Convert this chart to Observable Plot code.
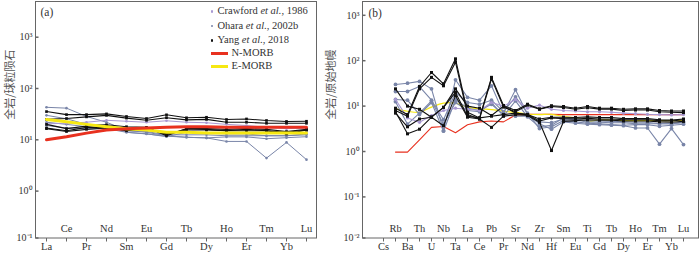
<!DOCTYPE html>
<html><head><meta charset="utf-8">
<script src="https://cdn.jsdelivr.net/npm/d3@7"></script>
<script src="https://cdn.jsdelivr.net/npm/@observablehq/plot@0.6"></script>
<style>
body{margin:0;background:#fff;}
#wrap{position:relative;width:700px;height:256px;overflow:hidden;font-family:"Liberation Serif","Times New Roman",serif;}
#wrap svg{font-family:"Liberation Serif","Times New Roman",serif !important;}
#pa{position:absolute;left:0;top:0;}
#pb{position:absolute;left:318px;top:0;}
.lg{position:absolute;font-size:10.5px;color:#333;white-space:nowrap;line-height:12px;}
.mk{position:absolute;}
</style></head><body>
<div id="wrap"><div id="pa"></div><div id="pb"></div><div id="legend"></div></div>
<script>
// ---------- data ----------
const reeA = ["La","Ce","Pr","Nd","Sm","Eu","Gd","Tb","Dy","Ho","Er","Tm","Yb","Lu"];
const elB = ["Cs","Rb","Ba","Th","U","Nb","Ta","La","Ce","Pb","Pr","Sr","Nd","Zr","Hf","Sm","Eu","Ti","Gd","Tb","Dy","Ho","Er","Tm","Yb","Lu"];
const yTicksA = [0.1, 1, 10, 100, 1000];
const yTicksB = [0.01, 0.1, 1, 10, 100, 1000];

// (a) chondrite-normalized REE
const yangA = [
  [35.5,31,31,32,28.5,26,30.7,26.9,27.5,24.9,25.5,23.8,22.8,23],
  [25,26,28,30,26.5,24,27,24.5,25,22,22,21,21,21],
  [20,16.5,18.5,19.6,18,17.5,12,16.4,16,15,16,15,14,15.5],
  [17,15,17.5,17.5,15,16.4,13,15.5,15.5,15,15,15,13,15.5],
  [16.5,14.5,16,17,16.5,17,12.5,16.5,16.5,16,16.5,16,14.5,16]
];
const oharaA = [
  [43,41.4,28.5,22,15.2,14,12,11.2,10.9,9.3,9.3,4.4,8.9,4.1],
  [30,25.7,20,19.6,14,13,11.8,11.2,10.9,11.4,11.4,10.5,11,11.5],
  [22,20,18,17,15,14.5,12.5,12.5,12.5,12,12,12,12,13],
  [19,17,16.5,16.5,14,13.1,11.5,14,13.5,13,13,12,12,12.5]
];
const crawfordA = [
  [20.5,21,22,24,23,22,23.5,22,21.5,20,19,17.5,16.5,17]
];
const nmorbA = [10,11.5,13.5,15.5,16.5,17,17.5,18,18,17.5,17.5,17.5,17.5,17.5];
const emorbA = [25,22.5,20,18,16.5,15.5,14,14,13.5,13.5,13.5,13.5,13.5,13.5];

// (b) primitive-mantle-normalized
const yangB = [
  [null,9,6.5,27,55,31,110,7.3,5.5,43,10.3,8,11,8.7,10.2,9.8,9,9.8,9,9,8.5,8.7,8.7,8,7.8,7.8],
  [null,8,6,24,43,28,93,6.5,5.2,40,9.5,7.5,10.5,8.5,9.8,9.3,8.5,9.2,8.6,8.6,8,8.2,8.2,7.5,7.3,7.2],
  [null,24,10,8.5,5.7,9.4,24,10,9,6.2,10,7,6.5,5.2,5.7,5.7,5.6,5.8,5.6,5.6,5.3,5.3,5.3,5,4.9,5.2],
  [null,7.5,2.45,3.1,5.7,3.7,17,5.7,5.2,3.4,6,6.5,6.2,4.4,1.05,4.6,4.8,5.0,4.9,4.9,4.7,4.7,4.7,4.5,4.4,4.6],
  [null,7,3.5,5.2,5.7,9.4,20,6,5.5,6,6.5,7,6.5,4.7,5.5,5.3,5.2,5.4,5.2,5.2,5,5,5,4.8,4.7,5.0]
];
const oharaB = [
  [null,30,32,35,24,2.9,38,15.6,13.5,28,7,23,6.5,4.1,3.1,4.5,4.2,4.0,3.9,3.8,3.7,3.3,3.3,1.45,3.2,1.42],
  [null,21,21,27,13.5,5,20,12,11,13.5,7.5,16,7,3.2,3.5,4.8,4.5,4.2,4.1,3.9,3.8,3.9,3.9,3.6,3.8,4.0],
  [null,14,13.5,6.5,12,2.8,14,9,8,11,6.5,6,6,4.5,4.3,5.2,5.0,4.4,4.4,4.3,4.3,4.1,4.1,4.1,4.1,4.5],
  [null,12.5,4,7,13,4,12,8,7.5,12,6,13,5.8,3.5,3.8,5.5,5.3,4.7,4.7,4.6,4.5,4.4,4.4,4.1,4.1,4.3]
];
const crawfordB = [
  [null,14,5.5,4.4,6.2,8,9,8.5,8,12,10,14,9,10.5,8.5,8,7.8,7.5,7.5,7.3,7,6.8,6.6,6.5,6.4,6.5]
];
const nmorbB = [null,0.97,0.97,1.8,3.4,3.55,2.6,3.9,4.5,4.7,4.5,6.4,6.6,6.6,6.6,6.5,6.5,6.5,6.5,6.5,6.5,6.5,6.5,6.5,6.5,6.5];
const emorbB = [null,8.7,7.7,7.3,9.5,11.6,11.6,9.5,8.7,8.4,7.7,7.3,6.7,6.5,6.6,5.9,5.5,4.6,5.0,4.9,4.8,4.8,4.8,4.8,4.8,4.8];

// ---------- styling ----------
const C_PURPLE = "#a898d2", C_BLUE = "#7985a8", C_BLACK = "#111", C_RED = "#e8311f", C_YEL = "#f6e812";
const FRAME = "#666", TXT = "#333";
const SERIF = "Liberation Serif";

const tidy = (els, rows, g) => rows.flatMap((r, k) => r.map((v, i) => ({el: els[i], v, id: g + k})).filter(d => d.v != null));
const single = (els, r) => r.map((v, i) => ({el: els[i], v})).filter(d => d.v != null);
const supMap = {"-":"⁻","0":"⁰","1":"¹","2":"²","3":"³","4":"⁴","5":"⁵","6":"⁶","7":"⁷","8":"⁸","9":"⁹"};
const sup = d => "10" + String(Math.round(Math.log10(d))).split("").map(c => supMap[c]).join("");
const hTick = {draw(ctx){ctx.moveTo(0,0); ctx.lineTo(3,0);}};
const vTick = {draw(ctx){ctx.moveTo(0,0); ctx.lineTo(0,3.5);}};

function xLabels(els) {
  const even = els.filter((d, i) => i % 2 === 0), odd = els.filter((d, i) => i % 2 === 1);
  return [
    Plot.dot(els, {x: d => d, frameAnchor: "bottom", symbol: vTick, stroke: FRAME, fill: "none", strokeWidth: 1}),
    Plot.text(even, {x: d => d, frameAnchor: "bottom", dy: 12, fill: TXT, fontSize: 10.5, fontFamily: SERIF}),
    Plot.text(odd, {x: d => d, frameAnchor: "bottom", dy: -6.5, fill: TXT, fontSize: 10.5, fontFamily: SERIF})
  ];
}
function yAxis(ticks) {
  return [
    Plot.dot(ticks, {y: d => d, frameAnchor: "left", symbol: hTick, stroke: FRAME, fill: "none"}),
    Plot.axisY(ticks, {tickSize: 0, tickPadding: 3, tickFormat: sup, label: null, fill: TXT, fontSize: 10, fontFamily: SERIF})
  ];
}
const baseStyle = {fontFamily: SERIF, fontSize: "10.5px", background: "transparent", overflow: "visible", color: TXT};

// ---------- panel (a) ----------
const A = Plot.plot({
  width: 318, height: 256,
  marginLeft: 35, marginRight: 2, marginTop: 1, marginBottom: 18.5,
  style: baseStyle,
  x: {type: "point", domain: reeA, padding: 0.5, axis: null},
  y: {type: "log", domain: [10 ** -0.914, 10 ** 3.696], clamp: true, axis: null},
  marks: [
    Plot.frame({stroke: FRAME}),
    ...yAxis(yTicksA),
    ...xLabels(reeA),
    Plot.line(tidy(reeA, oharaA, "o"), {x: "el", y: "v", z: "id", stroke: C_BLUE, strokeWidth: 1}),
    Plot.dot(tidy(reeA, oharaA, "o"), {x: "el", y: "v", fill: C_BLUE, r: 1.3}),
    Plot.line(tidy(reeA, crawfordA, "c"), {x: "el", y: "v", z: "id", stroke: C_PURPLE, strokeWidth: 1}),
    Plot.dot(tidy(reeA, crawfordA, "c"), {x: "el", y: "v", fill: C_PURPLE, r: 1.3}),
    Plot.line(tidy(reeA, yangA, "y"), {x: "el", y: "v", z: "id", stroke: C_BLACK, strokeWidth: 1.1}),
    Plot.dot(tidy(reeA, yangA, "y"), {x: "el", y: "v", fill: C_BLACK, symbol: "square", r: 1.5}),
    Plot.line(single(reeA, emorbA), {x: "el", y: "v", stroke: C_YEL, strokeWidth: 3}),
    Plot.line(single(reeA, nmorbA), {x: "el", y: "v", stroke: C_RED, strokeWidth: 3}),
    Plot.text(["(a)"], {frameAnchor: "top-left", dx: 5, dy: 6, fill: TXT, fontSize: 11.5, textAnchor: "start", fontFamily: SERIF}),
    Plot.text(["全岩/球粒陨石"], {frameAnchor: "left", dx: -25, rotate: -90, fill: "#555", fontSize: 11, fontFamily: "Noto Sans CJK SC"})
  ]
});
document.getElementById("pa").append(A);

// ---------- panel (b) ----------
const B = Plot.plot({
  width: 382, height: 256,
  marginLeft: 44, marginRight: 2, marginTop: 1, marginBottom: 18.5,
  style: baseStyle,
  x: {type: "point", domain: elB, range: [58.7, 371.3], axis: null},
  y: {type: "log", domain: [10 ** -1.905, 10 ** 3.304], clamp: true, axis: null},
  marks: [
    Plot.frame({stroke: FRAME}),
    ...yAxis(yTicksB),
    ...xLabels(elB),
    Plot.line(single(elB, nmorbB), {x: "el", y: "v", stroke: C_RED, strokeWidth: 1.1}),
    Plot.line(single(elB, emorbB), {x: "el", y: "v", stroke: C_YEL, strokeWidth: 1.2, curve: "catmull-rom"}),
    Plot.line(tidy(elB, oharaB, "o"), {x: "el", y: "v", z: "id", stroke: C_BLUE, strokeWidth: 1.1}),
    Plot.dot(tidy(elB, oharaB, "o"), {x: "el", y: "v", fill: C_BLUE, r: 1.9}),
    Plot.line(tidy(elB, crawfordB, "c"), {x: "el", y: "v", z: "id", stroke: C_PURPLE, strokeWidth: 1.1}),
    Plot.dot(tidy(elB, crawfordB, "c"), {x: "el", y: "v", fill: C_PURPLE, r: 1.6}),
    Plot.line(tidy(elB, yangB, "y"), {x: "el", y: "v", z: "id", stroke: C_BLACK, strokeWidth: 1.1}),
    Plot.dot(tidy(elB, yangB, "y"), {x: "el", y: "v", fill: C_BLACK, symbol: "square", r: 1.7}),
    Plot.text(["(b)"], {frameAnchor: "top-left", dx: 6, dy: 7, fill: TXT, fontSize: 11.5, textAnchor: "start", fontFamily: SERIF}),
    Plot.text(["全岩/原始地幔"], {frameAnchor: "left", dx: -31, rotate: -90, fill: "#555", fontSize: 11, fontFamily: "Noto Sans CJK SC"})
  ]
});
document.getElementById("pb").append(B);

// ---------- legend (panel a) ----------
const legendItems = [
  {name: "Crawford", year: ", 1986", kind: "dot", color: C_PURPLE},
  {name: "Ohara", year: ", 2002b", kind: "dot", color: C_BLUE},
  {name: "Yang", year: ", 2018", kind: "dot", color: C_BLACK},
  {name: "N-MORB", kind: "line", color: C_RED},
  {name: "E-MORB", kind: "line", color: C_YEL}
];
const legY = [11.5, 26, 40.5, 53, 66];
const lg = document.getElementById("legend");
legendItems.forEach((it, i) => {
  const y = legY[i];
  const mk = document.createElement("div");
  mk.className = "mk";
  if (it.kind === "dot") {
    Object.assign(mk.style, {left: "210.8px", top: (y - 1.3) + "px", width: "2.6px", height: "2.6px", background: it.color, borderRadius: "50%"});
  } else {
    Object.assign(mk.style, {left: "211px", top: (y - 1.5) + "px", width: "17px", height: "3px", background: it.color});
  }
  lg.append(mk);
  const t = document.createElement("div");
  t.className = "lg";
  t.style.left = (it.kind === "dot" ? 217.5 : 231.5) + "px";
  t.style.top = (y - 6.5) + "px";
  if (it.kind === "dot") {
    t.append(it.name + " ");
    const em = document.createElement("i"); em.textContent = "et al."; t.append(em);
    t.append(it.year);
  } else t.textContent = it.name;
  lg.append(t);
});
</script>
</body></html>
